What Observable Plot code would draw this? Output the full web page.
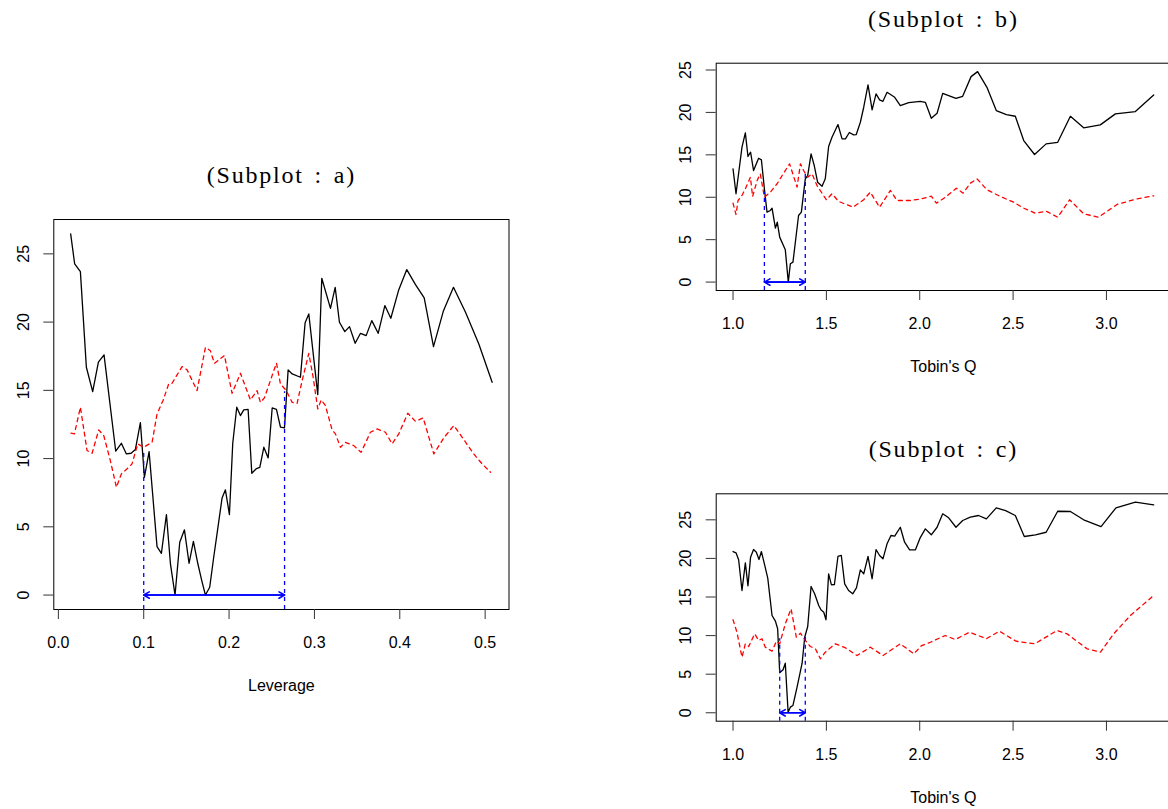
<!DOCTYPE html>
<html>
<head>
<meta charset="utf-8">
<script src="https://cdn.jsdelivr.net/npm/d3@7"></script>
<script src="https://cdn.jsdelivr.net/npm/@observablehq/plot@0.6"></script>
<style>
  html, body { margin: 0; padding: 0; background: white; overflow: hidden; }
  #page { position: relative; width: 1168px; height: 809px; overflow: hidden; background: white; }
  .panel { position: absolute; }
  g[font-family*="Liberation Serif"] text { letter-spacing: 1.8px; word-spacing: 3px; }
</style>
</head>
<body>
<div id="page">
  <div id="pa" class="panel" style="left:0px; top:150px; width:540px;"></div>
  <div id="pb" class="panel" style="left:680px; top:0px; width:500px;"></div>
  <div id="pc" class="panel" style="left:680px; top:430px; width:500px;"></div>
</div>
<script>
// ---------- Subplot a (Leverage) ----------
const aBlackX = [0.0144,0.0191,0.0258,0.0328,0.0402,0.0469,0.0535,0.0672,0.0738,0.0797,0.0852,0.0902,0.0961,0.1008,0.1063,0.1156,0.1207,0.1266,0.1313,0.1367,0.1422,0.1477,0.1531,0.1582,0.1633,0.1680,0.1723,0.1773,0.1820,0.1867,0.1918,0.1957,0.2004,0.2043,0.2090,0.2133,0.2172,0.2223,0.2266,0.2321,0.2360,0.2407,0.2458,0.2505,0.2555,0.2602,0.2649,0.2692,0.2739,0.2836,0.2891,0.2934,0.3039,0.3086,0.3188,0.3243,0.3293,0.3356,0.3411,0.3477,0.3540,0.3606,0.3672,0.3747,0.3825,0.3895,0.3985,0.4082,0.4184,0.4286,0.4395,0.4512,0.4629,0.4770,0.4926,0.5082];
const aBlackY = [26.46,24.26,23.70,16.69,14.90,17.06,17.60,10.54,11.12,10.34,10.39,10.66,12.64,8.63,10.51,3.55,3.06,5.90,2.29,0.00,3.87,4.78,2.33,3.94,2.33,1.06,0.00,0.57,2.77,4.85,7.12,7.71,5.90,11.12,13.76,13.15,13.57,13.61,8.92,9.27,9.36,10.83,10.05,13.71,13.61,12.30,12.25,16.50,16.20,15.96,19.96,20.60,14.69,23.21,21.01,22.55,19.99,19.30,19.67,18.45,19.18,19.01,20.11,19.18,21.21,20.28,22.31,23.85,22.75,21.77,18.20,20.84,22.55,20.72,18.40,15.59];
const aRedX = [0.0148,0.0188,0.0258,0.0336,0.0395,0.0473,0.0532,0.0609,0.0680,0.0738,0.0805,0.0863,0.0930,0.1000,0.1098,0.1156,0.1226,0.1293,0.1332,0.1449,0.1508,0.1625,0.1723,0.1781,0.1828,0.1946,0.2035,0.2133,0.2250,0.2328,0.2367,0.2414,0.2555,0.2602,0.2670,0.2739,0.2797,0.2856,0.2934,0.2985,0.3039,0.3080,0.3129,0.3207,0.3246,0.3305,0.3363,0.3461,0.3547,0.3656,0.3735,0.3832,0.3910,0.3988,0.4094,0.4184,0.4274,0.4399,0.4516,0.4633,0.4731,0.4867,0.4965,0.5063];
const aRedY = [11.86,11.81,13.76,10.59,10.39,12.10,11.68,9.85,7.90,8.88,9.25,9.61,11.08,10.83,11.19,13.27,14.25,15.47,15.52,16.74,16.50,14.98,18.15,17.90,16.98,17.55,14.78,16.25,14.30,14.98,14.12,14.45,17.00,15.47,14.98,14.12,14.05,15.71,17.71,15.96,13.64,14.30,13.88,12.10,11.81,10.83,11.19,10.95,10.46,11.93,12.17,11.93,11.08,11.81,13.32,12.73,12.98,10.34,11.52,12.42,11.56,10.34,9.61,9.00];
const aBand = [0.100, 0.265];
const aBandTop = [10.6, 14.9];
const aXTicks = [0.0, 0.1, 0.2, 0.3, 0.4, 0.5];

// ---------- Subplot b (Tobin's Q) ----------
const bBlackX = [1.000,1.016,1.048,1.066,1.080,1.094,1.110,1.137,1.152,1.168,1.182,1.200,1.209,1.227,1.237,1.250,1.280,1.296,1.307,1.321,1.351,1.366,1.387,1.400,1.418,1.435,1.453,1.477,1.494,1.512,1.530,1.562,1.584,1.602,1.623,1.646,1.660,1.682,1.700,1.723,1.745,1.766,1.785,1.803,1.825,1.866,1.896,1.941,2.003,2.030,2.062,2.093,2.123,2.194,2.230,2.275,2.310,2.360,2.410,2.464,2.512,2.557,2.615,2.677,2.739,2.807,2.878,2.967,3.048,3.155,3.253];
const bBlackY = [13.35,10.41,15.90,17.59,14.80,15.31,13.15,14.60,14.41,11.00,8.24,8.44,8.71,6.36,7.06,5.30,3.81,0.00,2.16,2.35,7.85,8.24,12.17,12.56,15.12,13.74,11.77,11.30,12.17,15.98,17.07,18.57,16.88,16.88,17.63,17.35,17.39,18.84,20.61,23.24,20.30,22.18,21.48,21.31,22.37,21.78,20.80,21.16,21.31,21.19,19.31,19.90,22.25,21.66,21.90,24.22,24.81,22.96,20.22,19.75,19.55,16.68,15.04,16.29,16.48,19.55,18.18,18.53,19.83,20.10,22.06];
const bRedX = [1.000,1.016,1.027,1.048,1.066,1.093,1.105,1.129,1.146,1.168,1.200,1.236,1.271,1.303,1.343,1.361,1.378,1.400,1.423,1.450,1.500,1.530,1.566,1.643,1.700,1.735,1.785,1.843,1.878,1.950,2.010,2.062,2.089,2.137,2.196,2.232,2.271,2.307,2.360,2.432,2.503,2.557,2.619,2.678,2.739,2.803,2.878,2.958,3.057,3.164,3.253];
const bRedY = [9.30,7.97,9.62,10.21,11.00,12.36,10.09,11.97,12.76,10.00,10.60,11.59,12.83,13.94,11.19,13.94,13.15,12.36,12.76,11.38,9.70,10.41,9.50,8.83,9.70,10.60,8.83,10.80,9.62,9.62,9.82,10.13,9.30,10.00,11.07,10.48,11.66,12.17,10.88,10.09,9.42,8.71,8.12,8.36,7.65,9.70,8.05,7.65,9.15,9.82,10.17];
const bBand = [1.168, 1.387];
const bBandTop = [10.6, 12.76];

// ---------- Subplot c (Tobin's Q) ----------
const cBlackX = [1.000,1.016,1.030,1.048,1.066,1.080,1.094,1.110,1.125,1.139,1.152,1.168,1.186,1.209,1.227,1.239,1.250,1.268,1.280,1.295,1.307,1.321,1.343,1.370,1.384,1.400,1.418,1.437,1.459,1.471,1.486,1.498,1.512,1.527,1.543,1.562,1.580,1.598,1.619,1.641,1.661,1.682,1.700,1.723,1.745,1.766,1.785,1.803,1.825,1.846,1.866,1.896,1.919,1.946,1.977,2.003,2.030,2.062,2.093,2.123,2.155,2.194,2.230,2.271,2.315,2.357,2.410,2.460,2.512,2.560,2.620,2.677,2.739,2.807,2.878,2.971,3.051,3.155,3.253];
const cBlackY = [20.89,20.73,19.82,15.84,19.43,16.45,20.16,21.15,20.80,19.86,20.89,19.30,17.44,12.60,11.87,10.88,5.18,5.57,6.42,0.08,0.73,0.95,3.32,6.42,9.79,11.18,16.36,15.41,13.90,13.34,13.03,12.05,18.00,16.58,16.62,20.25,20.38,16.71,15.84,15.41,16.19,18.52,18.00,20.25,17.36,21.15,20.38,19.95,21.89,22.97,22.88,24.04,22.10,21.11,21.11,22.70,23.83,23.06,24.04,25.78,25.26,24.04,24.91,25.34,25.56,25.13,26.55,26.20,25.56,22.84,23.06,23.39,26.11,26.08,25.00,24.13,26.55,27.28,26.94];
const cRedX = [1.000,1.021,1.048,1.066,1.084,1.116,1.137,1.155,1.173,1.209,1.232,1.250,1.280,1.311,1.339,1.361,1.387,1.414,1.441,1.468,1.494,1.548,1.602,1.664,1.736,1.803,1.896,1.968,2.010,2.057,2.137,2.190,2.267,2.357,2.427,2.516,2.616,2.736,2.789,2.896,2.968,3.039,3.128,3.253];
const cRedY = [12.05,10.44,7.20,8.94,8.59,10.23,9.37,9.59,8.50,7.98,9.27,8.94,11.53,13.47,9.79,10.31,9.37,8.59,8.29,6.99,7.85,8.94,8.42,7.42,8.50,7.42,8.94,7.64,8.70,9.14,10.01,9.49,10.44,9.59,10.57,9.27,8.94,10.66,10.23,8.29,7.85,10.23,12.60,15.19];
const cBand = [1.250, 1.387];
const cBandTop = [9.6, 9.8];

const qXTicks = [1.0, 1.5, 2.0, 2.5, 3.0];
const yTicks = [0, 5, 10, 15, 20, 25];

function panel(cfg) {
  const black = cfg.bx.map((x, i) => ({x, y: cfg.by[i]}));
  const red = cfg.rx.map((x, i) => ({x, y: cfg.ry[i]}));
  const xs = cfg.bx.concat(cfg.rx);
  const ys = cfg.by.concat(cfg.ry);
  const x0 = d3.min(xs), x1 = d3.max(xs);
  const y0 = Math.min(0, d3.min(ys)), y1 = d3.max(ys);
  const ex = (x1 - x0) * 0.04, ey = (y1 - y0) * 0.04;
  const yLo = y0 - ey;
  const band = cfg.band.map((x, i) => ({x, top: cfg.bandTop[i], lo: yLo}));
  const span = [{left: cfg.band[0], right: cfg.band[1]}];
  return Plot.plot({
    width: cfg.width,
    height: cfg.height,
    marginLeft: cfg.ml, marginRight: cfg.mr, marginTop: cfg.mt, marginBottom: cfg.mb,
    style: {fontFamily: "'Liberation Sans', Arial, sans-serif", fontSize: "16px", color: "black", background: "white", overflow: "visible"},
    x: {domain: [x0 - ex, x1 + ex]},
    y: {domain: [yLo, y1 + ey]},
    marks: [
      Plot.frame({stroke: "black", strokeWidth: 1}),
      Plot.axisX({ticks: cfg.xTicks, tickSize: 10, tickPadding: 17, tickFormat: d3.format(".1f"), label: null, stroke: "#333"}),
      Plot.axisY({ticks: yTicks, tickSize: 10, tickPadding: 15, tickRotate: -90, tickFormat: d3.format("d"), label: null, stroke: "#333"}),
      Plot.line(black, {x: "x", y: "y", stroke: "black", strokeWidth: 1.3}),
      Plot.line(red, {x: "x", y: "y", stroke: "#ff0000", strokeWidth: 1.3, strokeDasharray: "4,4"}),
      Plot.ruleX(band, {x: "x", y1: "lo", y2: "top", stroke: "#0000ff", strokeWidth: 1.3, strokeDasharray: "4,4"}),
      Plot.arrow(span, {x1: "left", x2: "right", y1: () => 0, y2: () => 0, stroke: "#0000ff", strokeWidth: 1.6, headLength: 6, headAngle: 60}),
      Plot.arrow(span, {x1: "right", x2: "left", y1: () => 0, y2: () => 0, stroke: "#0000ff", strokeWidth: 1.6, headLength: 6, headAngle: 60}),
      Plot.text([cfg.title], {text: d => d, frameAnchor: "top", dy: -44, lineAnchor: "middle", fontFamily: "'Liberation Serif', 'DejaVu Serif', serif", fontSize: 24, fill: "black"}),
      Plot.text([cfg.xLabel], {text: d => d, frameAnchor: "bottom", dy: 70, lineAnchor: "top", fontSize: 16, fill: "black"})
    ]
  });
}

document.getElementById("pa").append(panel({
  bx: aBlackX, by: aBlackY, rx: aRedX, ry: aRedY, band: aBand, bandTop: aBandTop,
  xTicks: aXTicks, xLabel: "Leverage", title: "(Subplot : a)",
  width: 540, height: 560, ml: 53.3, mr: 31.5, mt: 69, mb: 101
}));
document.getElementById("pb").append(panel({
  bx: bBlackX, by: bBlackY, rx: bRedX, ry: bRedY, band: bBand, bandTop: bBandTop,
  xTicks: qXTicks, xLabel: "Tobin's Q", title: "(Subplot : b)",
  width: 500, height: 390, ml: 35.7, mr: 10, mt: 62.7, mb: 100
}));
document.getElementById("pc").append(panel({
  bx: cBlackX, by: cBlackY, rx: cRedX, ry: cRedY, band: cBand, bandTop: cBandTop,
  xTicks: qXTicks, xLabel: "Tobin's Q", title: "(Subplot : c)",
  width: 500, height: 380, ml: 35.7, mr: 10, mt: 63.3, mb: 89.3
}));
</script>
</body>
</html>
